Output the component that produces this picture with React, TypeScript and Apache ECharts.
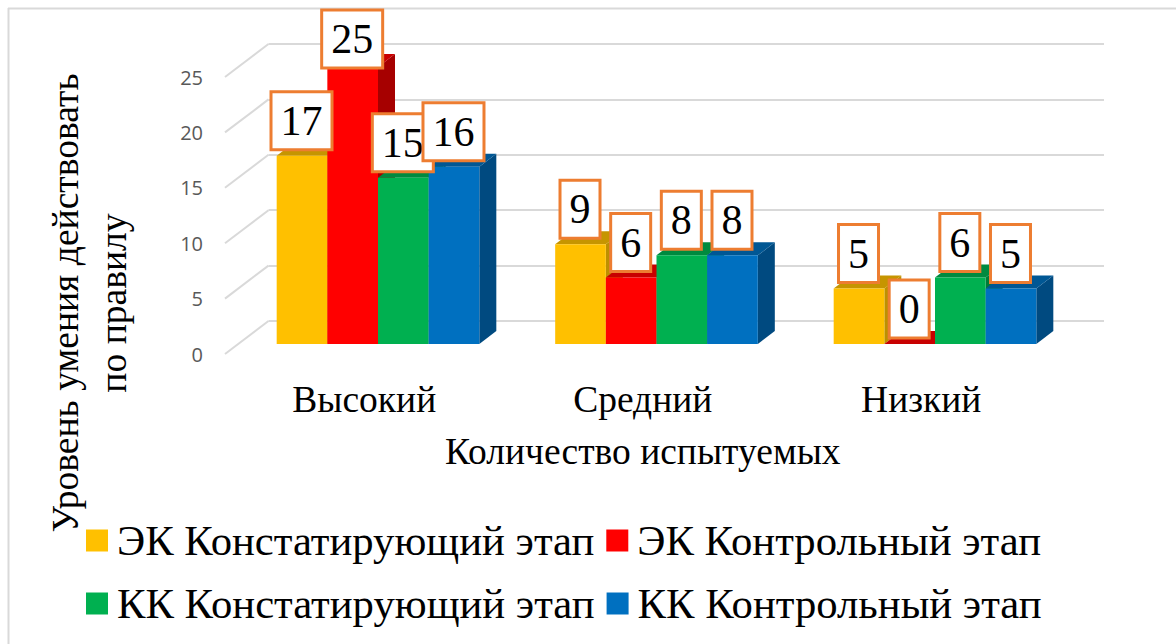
import React, { useEffect, useRef } from "react";
import * as echarts from "echarts";

const categories = ["Высокий", "Средний", "Низкий"];
const seriesNames = [
  "ЭК Констатирующий этап",
  "ЭК Контрольный этап",
  "КК Констатирующий этап",
  "КК Контрольный этап",
];
const ekStart = [17, 9, 5];
const ekControl = [25, 6, 0];
const kkStart = [15, 8, 6];
const kkControl = [16, 8, 5];
const seriesValues = [ekStart, ekControl, kkStart, kkControl];
const frontColors = ["#FFC000", "#FF0000", "#00B050", "#0070C0"];
const topColors = ["#C69500", "#C80000", "#008A3F", "#005794"];
const sideColors = ["#BD9000", "#A60000", "#007A38", "#004A80"];
const yTicks = [0, 5, 10, 15, 20, 25];

const SERIF = "'Liberation Serif', 'Times New Roman', serif";
const GRID_LINE = "#D9D9D9";

export default function App() {
  const ref = useRef<HTMLDivElement>(null);

  useEffect(() => {
    const chart = echarts.init(ref.current!, null, { renderer: "svg" });

    const barSeries = seriesNames.map((name, si) => ({
      type: "custom",
      name,
      xAxisIndex: 1,
      yAxisIndex: 1,
      itemStyle: { color: frontColors[si] },
      encode: { x: 0, y: 1 },
      data: seriesValues[si].map((v, i) => [i, v]),
      renderItem: (_p: any, api: any) => {
        const v = api.value(1);
        const [cx, yTop] = api.coord([api.value(0), v]);
        const [, yBase] = api.coord([api.value(0), 0]);
        const w = api.size([1, 0])[0] * 0.1819;
        const x0 = cx + (si - 2) * w;
        const x1 = x0 + w;
        const dx = 17;
        const dy = 13;
        const labelBottom = Math.max(yTop - 7, 67);
        return {
          type: "group",
          children: [
            {
              type: "polygon",
              shape: { points: [[x1, yTop], [x1 + dx, yTop - dy], [x1 + dx, yBase - dy], [x1, yBase]] },
              style: { fill: sideColors[si] },
            },
            {
              type: "polygon",
              shape: { points: [[x0, yTop], [x0 + dx, yTop - dy], [x1 + dx, yTop - dy], [x1, yTop]] },
              style: { fill: topColors[si] },
            },
            {
              type: "rect",
              shape: { x: x0, y: yTop, width: w, height: yBase - yTop },
              style: { fill: frontColors[si] },
            },
            {
              type: "text",
              z2: 100 + si,
              x: cx + (si - 1.5) * w - 0.5,
              y: labelBottom - 0.5,
              style: {
                text: String(v),
                font: `42px ${SERIF}`,
                fill: "#000",
                align: "center",
                verticalAlign: "bottom",
                lineHeight: 50,
                backgroundColor: "#fff",
                borderColor: "#ED7D31",
                borderWidth: 3,
                padding: [2.5, 8, 2.5, 8],
              },
            },
          ],
        };
      },
    }));

    const legendBase = {
      orient: "horizontal",
      padding: 0,
      left: 86,
      itemWidth: 22,
      itemHeight: 22,
      itemGap: 12,
      icon: "rect",
      textStyle: { fontFamily: SERIF, fontSize: 42.7, color: "#000", padding: [0, 0, 0, 4] },
    };

    chart.setOption({
      animation: false,
      backgroundColor: "#fff",
      graphic: [
        { type: "line", silent: true, shape: { x1: 8, y1: 8.5, x2: 1176, y2: 8.5 }, style: { stroke: GRID_LINE, lineWidth: 2 } },
        { type: "line", silent: true, shape: { x1: 8.5, y1: 8, x2: 8.5, y2: 644 }, style: { stroke: GRID_LINE, lineWidth: 2 } },
        {
          type: "text",
          x: 89,
          y: 303,
          rotation: Math.PI / 2,
          z: 20,
          style: {
            text: "Уровень умения действовать\nпо правилу",
            font: `37.6px ${SERIF}`,
            fill: "#000",
            align: "center",
            verticalAlign: "middle",
            lineHeight: 48,
          },
        },
      ],
      legend: [
        { ...legendBase, top: 519, data: seriesNames.slice(0, 2) },
        { ...legendBase, top: 582, data: seriesNames.slice(2, 4) },
      ],
      grid: [
        // front plane: axis labels
        { left: 225, right: 115.5, top: 77, height: 277 },
        // bar plane
        { left: 238.75, right: 101.75, top: 67, height: 277 },
        // back wall
        { left: 268.5, right: 72, top: 44, height: 277 },
      ],
      xAxis: [
        {
          type: "category",
          gridIndex: 0,
          data: categories,
          axisLine: { show: false },
          axisTick: { show: false },
          axisLabel: { fontFamily: SERIF, fontSize: 37.5, color: "#000", margin: 26 },
          name: "Количество испытуемых",
          nameLocation: "middle",
          nameGap: 78,
          nameTextStyle: { fontFamily: SERIF, fontSize: 37.5, color: "#000" },
        },
        { type: "category", gridIndex: 1, data: categories, show: false },
        { type: "category", gridIndex: 2, data: categories, show: false },
      ],
      yAxis: [
        {
          type: "value",
          gridIndex: 0,
          min: 0,
          max: 25,
          interval: 5,
          axisLine: { show: false },
          axisTick: { show: false },
          splitLine: { show: false },
          axisLabel: { fontFamily: "'Open Sans'", fontSize: 20, color: "#595959", margin: 22, padding: [3, 0, 0, 0] },
        },
        { type: "value", gridIndex: 1, min: 0, max: 25, interval: 5, show: false, splitLine: { show: false } },
        {
          type: "value",
          gridIndex: 2,
          min: 0,
          max: 25,
          interval: 5,
          axisLine: { show: false },
          axisTick: { show: false },
          axisLabel: { show: false },
          splitLine: { show: true, lineStyle: { color: GRID_LINE, width: 2 } },
        },
      ],
      series: [
        {
          type: "custom",
          name: "Стенка",
          silent: true,
          xAxisIndex: 2,
          yAxisIndex: 2,
          z: 1,
          encode: { y: 0 },
          data: yTicks.map((t) => [t]),
          renderItem: (params: any, api: any) => {
            const y = api.coord([0, api.value(0)])[1];
            const x = params.coordSys.x;
            return {
              type: "line",
              shape: { x1: x, y1: y, x2: x - 43.5, y2: y + 33 },
              style: { stroke: GRID_LINE, lineWidth: 2 },
            };
          },
        },
        ...barSeries,
      ],
    });
    return () => chart.dispose();
  }, []);

  return <div ref={ref} style={{ position: "absolute", left: 0, top: 0, width: 1176, height: 644 }} />;
}
